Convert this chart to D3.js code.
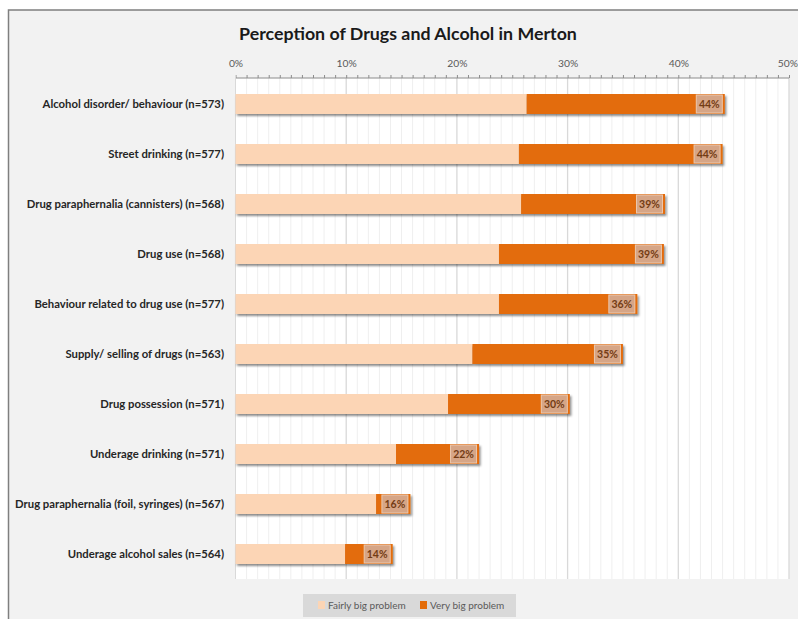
<html>
<head>
  <script src="https://d3js.org/d3.v7.min.js"></script>
  <style>
    body { margin: 0; background: #fff; }
    svg { display: block; font-family: Lato, "Open Sans", sans-serif; }
  </style>
</head>
<body>
<svg class="chart" width="798" height="619"></svg>
<script>
  var categories = [
    'Alcohol disorder/ behaviour (n=573)',
    'Street drinking (n=577)',
    'Drug paraphernalia (cannisters) (n=568)',
    'Drug use (n=568)',
    'Behaviour related to drug use (n=577)',
    'Supply/ selling of drugs (n=563)',
    'Drug possession (n=571)',
    'Underage drinking (n=571)',
    'Drug paraphernalia (foil, syringes) (n=567)',
    'Underage alcohol sales (n=564)'
  ];
  var fairlyBig = [26.3, 25.6, 25.8, 23.8, 23.8, 21.4, 19.2, 14.5, 12.7, 9.9];
  var veryBig   = [17.9, 18.4, 13.0, 14.9, 12.5, 13.6, 11.0, 7.5, 3.1, 4.3];
  var seriesNames = ['Fairly big problem', 'Very big problem'];
  var xTicks = [0, 10, 20, 30, 40, 50];

  var svg = d3.select('svg.chart');

  // drop shadow for the bars
  var defs = svg.append('defs');
  var f = defs.append('filter').attr('id', 'shadow')
    .attr('x', '-5%').attr('y', '-20%').attr('width', '110%').attr('height', '160%');
  f.append('feDropShadow').attr('dx', 1.5).attr('dy', 2).attr('stdDeviation', 1)
    .attr('flood-color', '#000').attr('flood-opacity', 0.45);

  // frame
  svg.append('rect').attr('x', 8.5).attr('y', 10).attr('width', 800).attr('height', 620)
    .attr('fill', '#f2f2f2').attr('stroke', '#7f7f7f').attr('stroke-width', 1.5);

  svg.append('text')
    .attr('x', 408).attr('y', 40)
    .attr('text-anchor', 'middle')
    .attr('font-size', 17.8).attr('font-weight', 'bold').attr('fill', '#1a1a1a')
    .text('Perception of Drugs and Alcohol in Merton');

  var x = d3.scaleLinear().domain([0, 50]).range([235.5, 789]);
  var y = d3.scaleBand().domain(categories).range([79, 579]).paddingInner(0.6).paddingOuter(0.3);

  // plot area
  svg.append('rect').attr('x', x(0)).attr('y', 78).attr('width', x(50) - x(0)).attr('height', 501)
    .attr('fill', '#fff');

  // minor + major gridlines
  svg.append('g').selectAll('line')
    .data(d3.range(1, 51))
    .enter().append('line')
    .attr('x1', function(d) { return x(d) }).attr('x2', function(d) { return x(d) })
    .attr('y1', 78).attr('y2', 579)
    .attr('stroke', function(d) { return d % 10 == 0 ? '#d9d9d9' : '#efefef' })
    .attr('stroke-width', function(d) { return d % 10 == 0 ? 1.3 : 1 });

  // top axis
  var axis = d3.axisTop(x)
    .tickValues(d3.range(0, 51))
    .tickSize(3)
    .tickFormat(function(d) { return xTicks.indexOf(d) >= 0 ? d + '%' : '' });
  var ag = svg.append('g').attr('transform', 'translate(0,78)').call(axis);
  ag.select('.domain').attr('stroke', '#8c8c8c').attr('d', 'M' + x(0) + ',0H' + x(50));
  ag.selectAll('.tick line').attr('stroke', '#8c8c8c');
  ag.selectAll('.tick text').attr('font-size', 10.3).attr('fill', '#595959')
    .attr('font-family', 'Lato, sans-serif').attr('dy', -5);
  // last label would run off the page edge
  ag.selectAll('.tick').filter(function(d) { return d == 50 }).select('text')
    .attr('text-anchor', 'end').attr('x', 8.5);
  ag.append('line').attr('x1', x(0)).attr('x2', x(0)).attr('y1', -3).attr('y2', 501).attr('stroke', '#d9d9d9');

  // category labels
  svg.append('g').selectAll('text')
    .data(categories)
    .enter().append('text')
    .attr('x', 224)
    .attr('y', function(d) { return y(d) + y.bandwidth() / 2 })
    .attr('dy', '0.35em')
    .attr('text-anchor', 'end')
    .attr('font-size', 11.3).attr('font-weight', 'bold').attr('fill', '#262626')
    .text(function(d) { return d });

  var rows = svg.append('g').selectAll('g')
    .data(categories)
    .enter().append('g')
    .attr('filter', 'url(#shadow)');

  rows.append('rect')
    .attr('x', x(0))
    .attr('y', function(d) { return y(d) })
    .attr('height', y.bandwidth())
    .attr('width', function(d, i) { return x(fairlyBig[i]) - x(0) })
    .attr('fill', '#fcd5b5');

  rows.append('rect')
    .attr('x', function(d, i) { return x(fairlyBig[i]) })
    .attr('y', function(d) { return y(d) })
    .attr('height', y.bandwidth())
    .attr('width', function(d, i) { return x(fairlyBig[i] + veryBig[i]) - x(fairlyBig[i]) })
    .attr('fill', '#e36c09');

  // total labels
  var lab = svg.append('g').selectAll('g')
    .data(categories)
    .enter().append('g');

  lab.append('rect')
    .attr('x', function(d, i) { return x(fairlyBig[i] + veryBig[i]) - 28.5 })
    .attr('y', function(d) { return y(d) + 1 })
    .attr('width', 26).attr('height', y.bandwidth() - 2)
    .attr('fill', '#d6a586').attr('stroke', '#ebc8ae').attr('stroke-width', 1);

  lab.append('text')
    .attr('x', function(d, i) { return x(fairlyBig[i] + veryBig[i]) - 15.5 })
    .attr('y', function(d) { return y(d) + y.bandwidth() / 2 })
    .attr('dy', '0.36em')
    .attr('text-anchor', 'middle')
    .attr('font-size', 10.5).attr('font-weight', 'bold').attr('fill', '#733c14')
    .text(function(d, i) { return Math.round(fairlyBig[i] + veryBig[i]) + '%' });

  // legend
  var lg = svg.append('g');
  lg.append('rect').attr('x', 303).attr('y', 594).attr('width', 213).attr('height', 23).attr('fill', '#d9d9d9');
  var items = lg.selectAll('g.item').data(seriesNames).enter().append('g')
    .attr('transform', function(d, i) { return 'translate(' + (i == 0 ? 318 : 420) + ',605)' });
  items.append('rect').attr('x', 0).attr('y', -4).attr('width', 7).attr('height', 8)
    .attr('fill', function(d, i) { return i == 0 ? '#fcd5b5' : '#e36c09' });
  items.append('text').attr('x', 10).attr('dy', '0.35em')
    .attr('font-size', 10).attr('fill', '#595959')
    .text(function(d) { return d });
</script>
</body>
</html>
